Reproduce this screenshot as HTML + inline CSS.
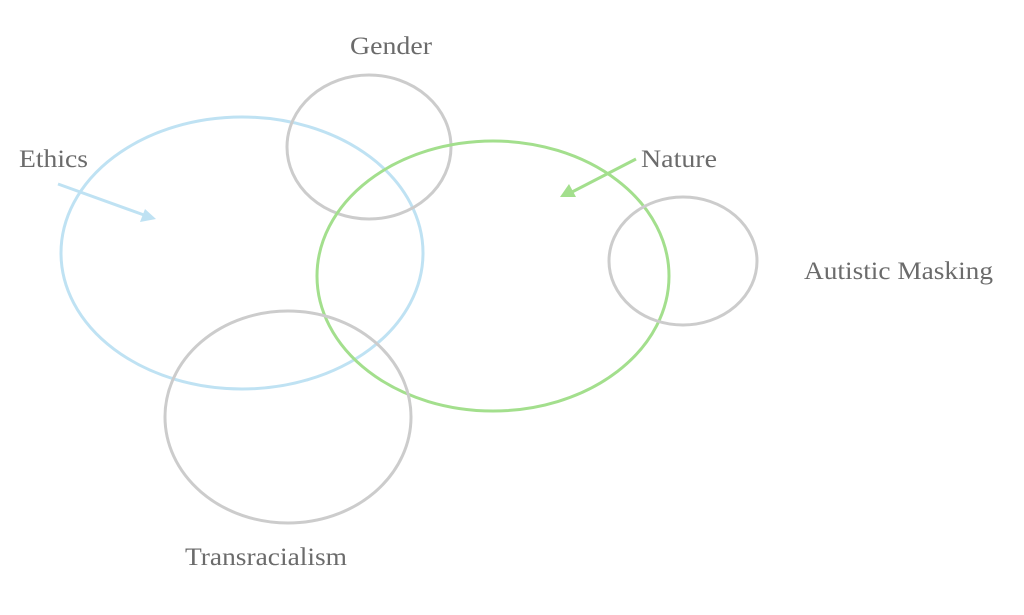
<!DOCTYPE html>
<html><head><meta charset="utf-8"><style>
html,body{margin:0;padding:0;background:#fff;width:1024px;height:615px;overflow:hidden}
text{font-family:"Liberation Serif",serif;font-size:25px;fill:#6b6b6b}
</style></head><body>
<svg width="1024" height="615" viewBox="0 0 1024 615">
<g fill="none" stroke-width="3">
<ellipse cx="242" cy="253" rx="181" ry="136" stroke="#bfe2f3"/>
<ellipse cx="369" cy="147" rx="82" ry="72" stroke="#cccccc"/>
<ellipse cx="493" cy="276" rx="176" ry="135" stroke="#a3df8d"/>
<ellipse cx="683" cy="261" rx="74" ry="64" stroke="#cccccc"/>
<ellipse cx="288" cy="417" rx="123" ry="106" stroke="#cccccc"/>
<line x1="58" y1="184" x2="144" y2="215" stroke="#bfe2f3"/>
<line x1="636" y1="159" x2="572" y2="192" stroke="#a3df8d"/>
</g>
<polygon points="156,219 140,222 145,209" fill="#bfe2f3"/>
<polygon points="560,197 569,184 576,197" fill="#a3df8d"/>
<text x="350" y="54" textLength="82" lengthAdjust="spacingAndGlyphs">Gender</text>
<text x="19" y="167" textLength="69" lengthAdjust="spacingAndGlyphs">Ethics</text>
<text x="641" y="167" textLength="76" lengthAdjust="spacingAndGlyphs">Nature</text>
<text x="804" y="279" textLength="189" lengthAdjust="spacingAndGlyphs">Autistic Masking</text>
<text x="185" y="565" textLength="162" lengthAdjust="spacingAndGlyphs">Transracialism</text>
</svg>
</body></html>
